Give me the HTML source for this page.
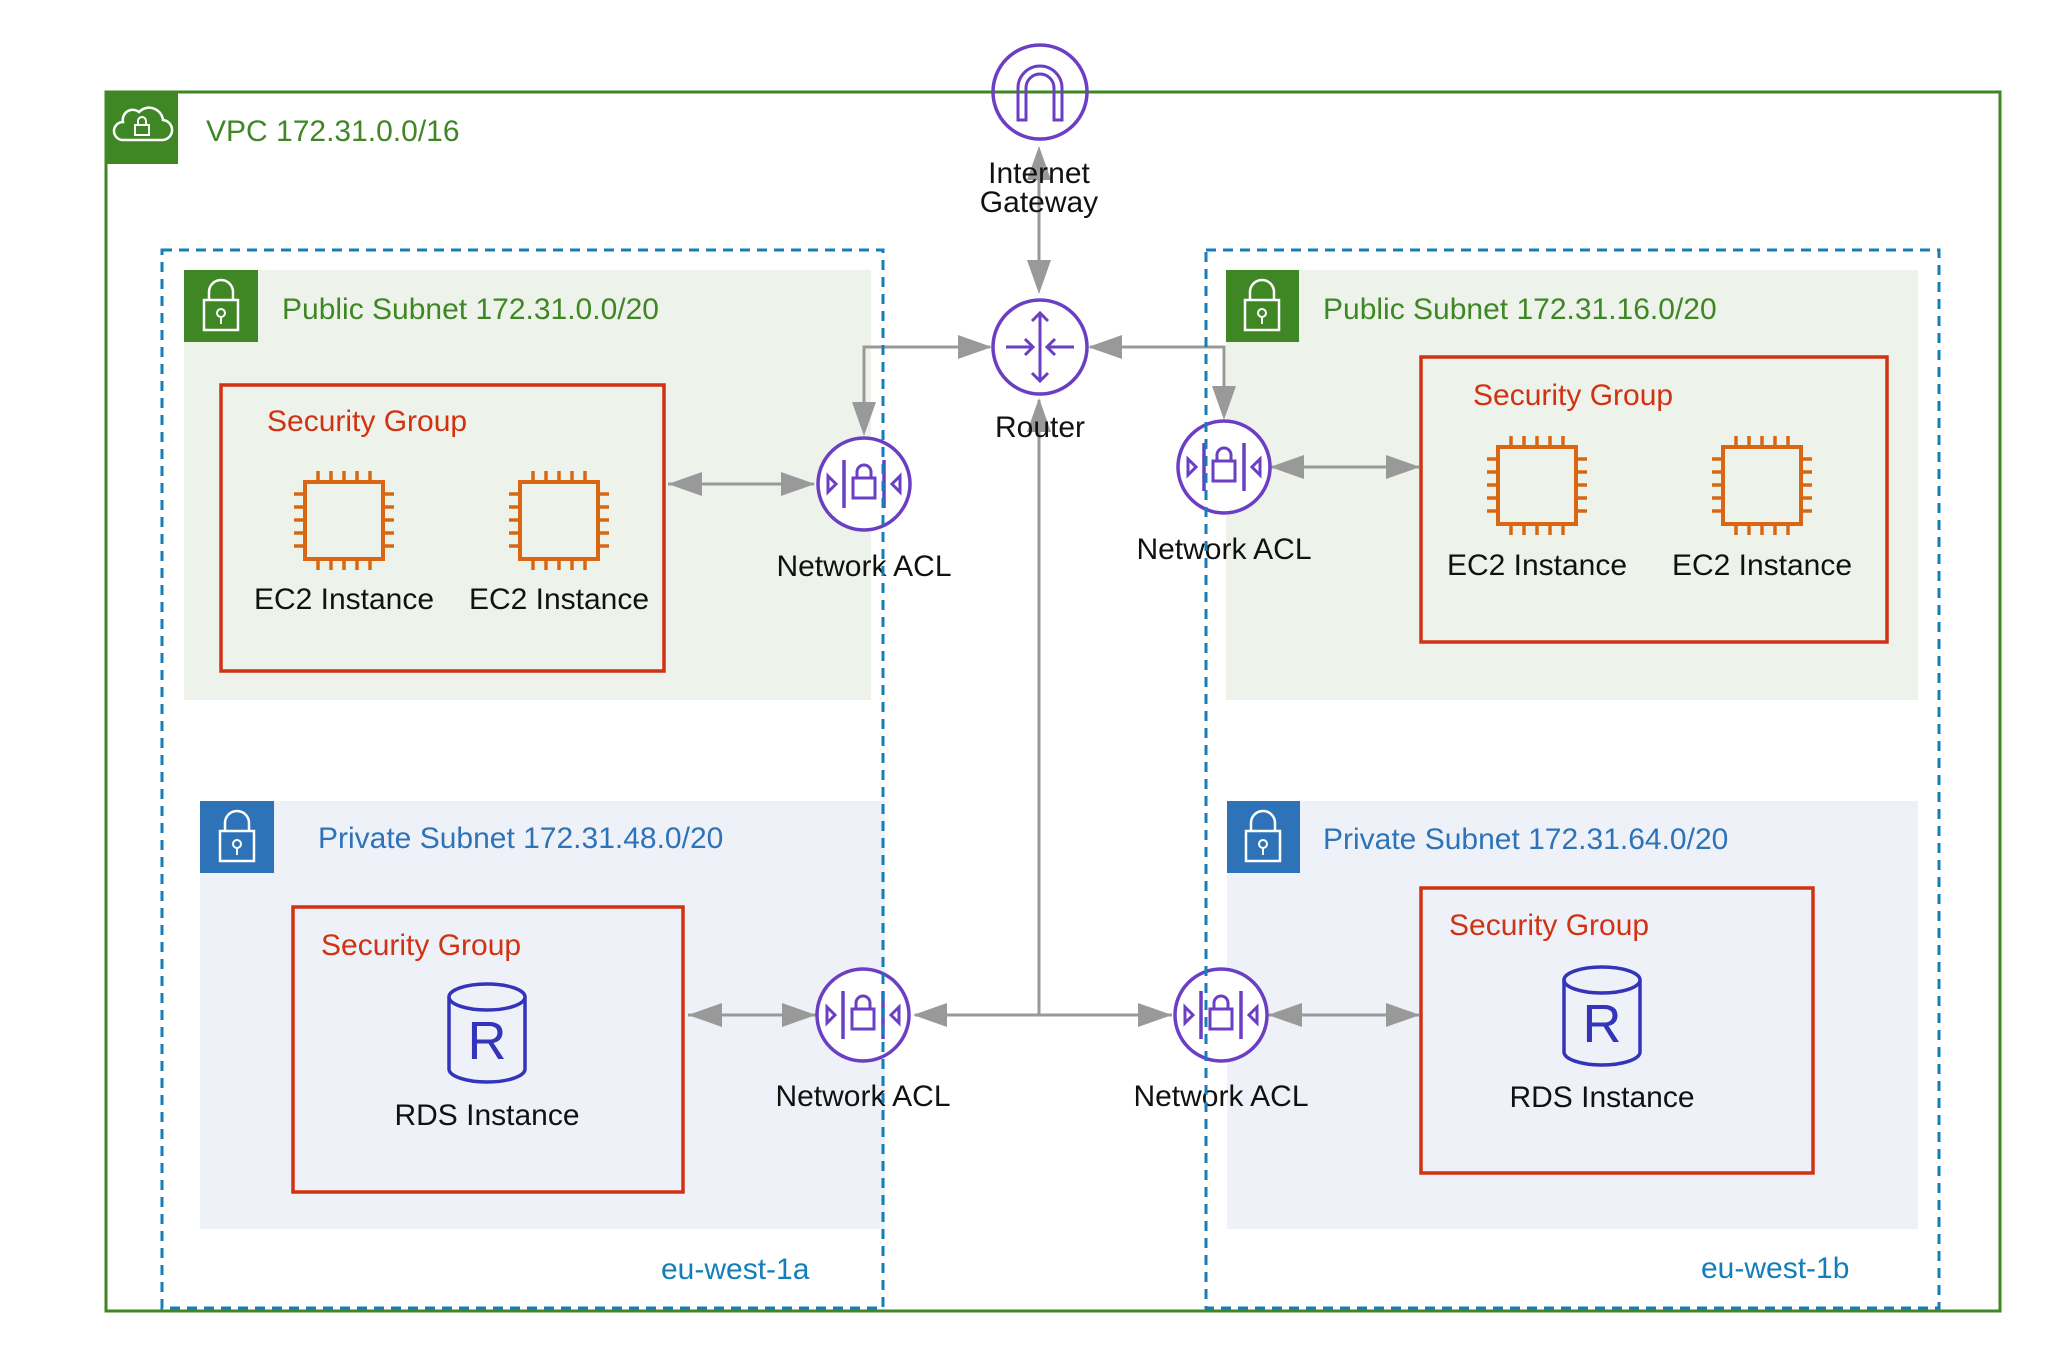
<!DOCTYPE html>
<html><head><meta charset="utf-8"><style>
html,body{margin:0;padding:0;background:#fff;}
svg{display:block;}
text{font-family:"Liberation Sans",Arial,sans-serif;font-size:30px;}
</style></head><body>
<svg width="2054" height="1354" viewBox="0 0 2054 1354" xmlns="http://www.w3.org/2000/svg">
<defs>
  <g id="nacl">
    <circle cx="0" cy="0" r="46" fill="#fff" stroke="#6a3fc4" stroke-width="3.5"/>
    <line x1="-20" y1="-24" x2="-20" y2="24" stroke="#6a3fc4" stroke-width="3.5"/>
    <line x1="20" y1="-24" x2="20" y2="24" stroke="#6a3fc4" stroke-width="3.5"/>
    <polygon points="-36,-8 -28,0 -36,8" fill="none" stroke="#6a3fc4" stroke-width="3"/>
    <polygon points="36,-8 28,0 36,8" fill="none" stroke="#6a3fc4" stroke-width="3"/>
    <rect x="-11" y="-6" width="22" height="20" fill="none" stroke="#6a3fc4" stroke-width="3"/>
    <path d="M-7,-6 V-12 A7,7 0 0 1 7,-12 V-6" fill="none" stroke="#6a3fc4" stroke-width="3"/>
  </g>
  <g id="chip">
    <rect x="-39" y="-38" width="78" height="77" fill="none" stroke="#d86613" stroke-width="4"/>
    <g stroke="#d86613" stroke-width="3.5">
      <line x1="-26" y1="-38" x2="-26" y2="-49"/><line x1="-13" y1="-38" x2="-13" y2="-49"/><line x1="0" y1="-38" x2="0" y2="-49"/><line x1="13" y1="-38" x2="13" y2="-49"/><line x1="26" y1="-38" x2="26" y2="-49"/>
      <line x1="-26" y1="39" x2="-26" y2="50"/><line x1="-13" y1="39" x2="-13" y2="50"/><line x1="0" y1="39" x2="0" y2="50"/><line x1="13" y1="39" x2="13" y2="50"/><line x1="26" y1="39" x2="26" y2="50"/>
      <line x1="-39" y1="-26" x2="-50" y2="-26"/><line x1="-39" y1="-13" x2="-50" y2="-13"/><line x1="-39" y1="0" x2="-50" y2="0"/><line x1="-39" y1="13" x2="-50" y2="13"/><line x1="-39" y1="26" x2="-50" y2="26"/>
      <line x1="39" y1="-26" x2="50" y2="-26"/><line x1="39" y1="-13" x2="50" y2="-13"/><line x1="39" y1="0" x2="50" y2="0"/><line x1="39" y1="13" x2="50" y2="13"/><line x1="39" y1="26" x2="50" y2="26"/>
    </g>
  </g>
  <g id="rds">
    <path d="M-38,-36 V36 A38,13 0 0 0 38,36 V-36" fill="none" stroke="#3334b9" stroke-width="3.5"/>
    <ellipse cx="0" cy="-36" rx="38" ry="13" fill="none" stroke="#3334b9" stroke-width="3.5"/>
    <text x="0" y="26" text-anchor="middle" fill="#3334b9" style="font-size:54px">R</text>
  </g>
  <g id="lock">
    <rect x="-17" y="-6" width="34" height="30" fill="none" stroke="#fff" stroke-width="2.5"/>
    <path d="M-12,-6 V-14 A12,12 0 0 1 12,-14 V-6" fill="none" stroke="#fff" stroke-width="2.5"/>
    <circle cx="0" cy="7" r="4" fill="none" stroke="#fff" stroke-width="2"/>
    <line x1="0" y1="11" x2="0" y2="18" stroke="#fff" stroke-width="2"/>
  </g>
</defs>

<!-- VPC -->
<rect x="106" y="92" width="1894" height="1219" fill="#fff" stroke="#3f8624" stroke-width="3"/>
<rect x="105" y="91" width="73" height="73" fill="#3f8624"/>
<path d="M123,140 h38 a10,10 0 0 0 2,-20 a14,14 0 0 0 -24,-8 a10,10 0 0 0 -16,10 a9,9 0 0 0 0,18 z" fill="none" stroke="#fff" stroke-width="2.5"/>
<rect x="135" y="125" width="14" height="10" fill="none" stroke="#fff" stroke-width="2"/>
<path d="M138,125 v-4 a4,4 0 0 1 8,0 v4" fill="none" stroke="#fff" stroke-width="2"/>
<text x="206" y="141" fill="#3f8624">VPC 172.31.0.0/16</text>

<!-- Subnets -->
<rect x="184" y="270" width="687" height="430" fill="#edf3ea"/>
<rect x="184" y="270" width="74" height="72" fill="#3f8624"/>
<use href="#lock" x="221" y="306"/>
<text x="282" y="319" fill="#3f8624">Public Subnet 172.31.0.0/20</text>

<rect x="1226" y="270" width="692" height="430" fill="#edf3ea"/>
<rect x="1226" y="270" width="73" height="72" fill="#3f8624"/>
<use href="#lock" x="1262" y="306"/>
<text x="1323" y="319" fill="#3f8624">Public Subnet 172.31.16.0/20</text>

<rect x="200" y="801" width="685" height="428" fill="#eef2f8"/>
<rect x="200" y="801" width="74" height="72" fill="#2e73b8"/>
<use href="#lock" x="237" y="837"/>
<text x="318" y="848" fill="#2e73b8">Private Subnet 172.31.48.0/20</text>

<rect x="1227" y="801" width="691" height="428" fill="#eef2f8"/>
<rect x="1227" y="801" width="73" height="72" fill="#2e73b8"/>
<use href="#lock" x="1263" y="837"/>
<text x="1323" y="849" fill="#2e73b8">Private Subnet 172.31.64.0/20</text>

<text x="661" y="1279" fill="#147eba">eu-west-1a</text>
<text x="1701" y="1278" fill="#147eba">eu-west-1b</text>

<!-- Security groups -->
<rect x="221" y="385" width="443" height="286" fill="none" stroke="#d13212" stroke-width="3.5"/>
<text x="267" y="431" fill="#d13212">Security Group</text>
<use href="#chip" x="344" y="520"/>
<use href="#chip" x="559" y="520"/>
<text x="344" y="609" text-anchor="middle" fill="#111">EC2 Instance</text>
<text x="559" y="609" text-anchor="middle" fill="#111">EC2 Instance</text>

<rect x="1421" y="357" width="466" height="285" fill="none" stroke="#d13212" stroke-width="3.5"/>
<text x="1473" y="405" fill="#d13212">Security Group</text>
<use href="#chip" x="1537" y="485"/>
<use href="#chip" x="1762" y="485"/>
<text x="1537" y="575" text-anchor="middle" fill="#111">EC2 Instance</text>
<text x="1762" y="575" text-anchor="middle" fill="#111">EC2 Instance</text>

<rect x="293" y="907" width="390" height="285" fill="none" stroke="#d13212" stroke-width="3.5"/>
<text x="321" y="955" fill="#d13212">Security Group</text>
<use href="#rds" x="487" y="1033"/>
<text x="487" y="1125" text-anchor="middle" fill="#111">RDS Instance</text>

<rect x="1421" y="888" width="392" height="285" fill="none" stroke="#d13212" stroke-width="3.5"/>
<text x="1449" y="935" fill="#d13212">Security Group</text>
<use href="#rds" x="1602" y="1016"/>
<text x="1602" y="1107" text-anchor="middle" fill="#111">RDS Instance</text>

<!-- Connectors -->
<g stroke="#999" stroke-width="3" fill="none">
  <line x1="1039" y1="150" x2="1039" y2="290"/>
  <polyline points="990,347 864,347 864,432"/>
  <polyline points="1090,347 1224,347 1224,416"/>
  <line x1="1039" y1="400" x2="1039" y2="1015"/>
  <line x1="915" y1="1015" x2="1172" y2="1015"/>
  <line x1="668" y1="484" x2="814" y2="484"/>
  <line x1="1270" y1="467" x2="1419" y2="467"/>
  <line x1="688" y1="1015" x2="816" y2="1015"/>
  <line x1="1268" y1="1015" x2="1419" y2="1015"/>
</g>
<g fill="#999">
  <polygon points="1039,146 1027,180 1051,180"/>
  <polygon points="1039,294 1027,260 1051,260"/>
  <polygon points="992,347 958,335 958,359"/>
  <polygon points="864,436 852,402 876,402"/>
  <polygon points="1088,347 1122,335 1122,359"/>
  <polygon points="1224,420 1212,386 1236,386"/>
  <polygon points="1039,398 1027,432 1051,432"/>
  <polygon points="913,1015 947,1003 947,1027"/>
  <polygon points="1172,1015 1138,1003 1138,1027"/>
  <polygon points="668,484 702,472 702,496"/>
  <polygon points="815,484 781,472 781,496"/>
  <polygon points="1270,467 1304,455 1304,479"/>
  <polygon points="1420,467 1386,455 1386,479"/>
  <polygon points="688,1015 722,1003 722,1027"/>
  <polygon points="816,1015 782,1003 782,1027"/>
  <polygon points="1268,1015 1302,1003 1302,1027"/>
  <polygon points="1420,1015 1386,1003 1386,1027"/>
</g>

<!-- IGW -->
<circle cx="1040" cy="92" r="47" fill="none" stroke="#6a3fc4" stroke-width="3.5"/>
<path d="M1018,120 V88 A22,22 0 0 1 1062,88 V120 H1054 V88 A14,14 0 0 0 1026,88 V120 Z" fill="none" stroke="#6a3fc4" stroke-width="3"/>
<text x="1039" y="183" text-anchor="middle" fill="#111">Internet</text>
<text x="1039" y="212" text-anchor="middle" fill="#111">Gateway</text>

<!-- Router -->
<circle cx="1040" cy="347" r="47" fill="#fff" stroke="#6a3fc4" stroke-width="3.5"/>
<g stroke="#6a3fc4" stroke-width="3" fill="none">
  <line x1="1040" y1="313" x2="1040" y2="381"/>
  <polyline points="1032,321 1040,313 1048,321"/>
  <polyline points="1032,373 1040,381 1048,373"/>
  <line x1="1006" y1="347" x2="1032" y2="347"/>
  <polyline points="1025,339 1033,347 1025,355"/>
  <line x1="1048" y1="347" x2="1074" y2="347"/>
  <polyline points="1055,339 1047,347 1055,355"/>
</g>
<text x="1040" y="437" text-anchor="middle" fill="#111">Router</text>

<!-- NACLs -->
<use href="#nacl" x="864" y="484"/>
<text x="864" y="576" text-anchor="middle" fill="#111">Network ACL</text>
<use href="#nacl" x="1224" y="467"/>
<text x="1224" y="559" text-anchor="middle" fill="#111">Network ACL</text>
<use href="#nacl" x="863" y="1015"/>
<text x="863" y="1106" text-anchor="middle" fill="#111">Network ACL</text>
<use href="#nacl" x="1221" y="1015"/>
<text x="1221" y="1106" text-anchor="middle" fill="#111">Network ACL</text>

<!-- AZ dashed (on top) -->
<rect x="162" y="250" width="721" height="1058" fill="none" stroke="#147eba" stroke-width="3" stroke-dasharray="10,7"/>
<rect x="1206" y="250" width="733" height="1058" fill="none" stroke="#147eba" stroke-width="3" stroke-dasharray="10,7"/>
</svg>
</body></html>
